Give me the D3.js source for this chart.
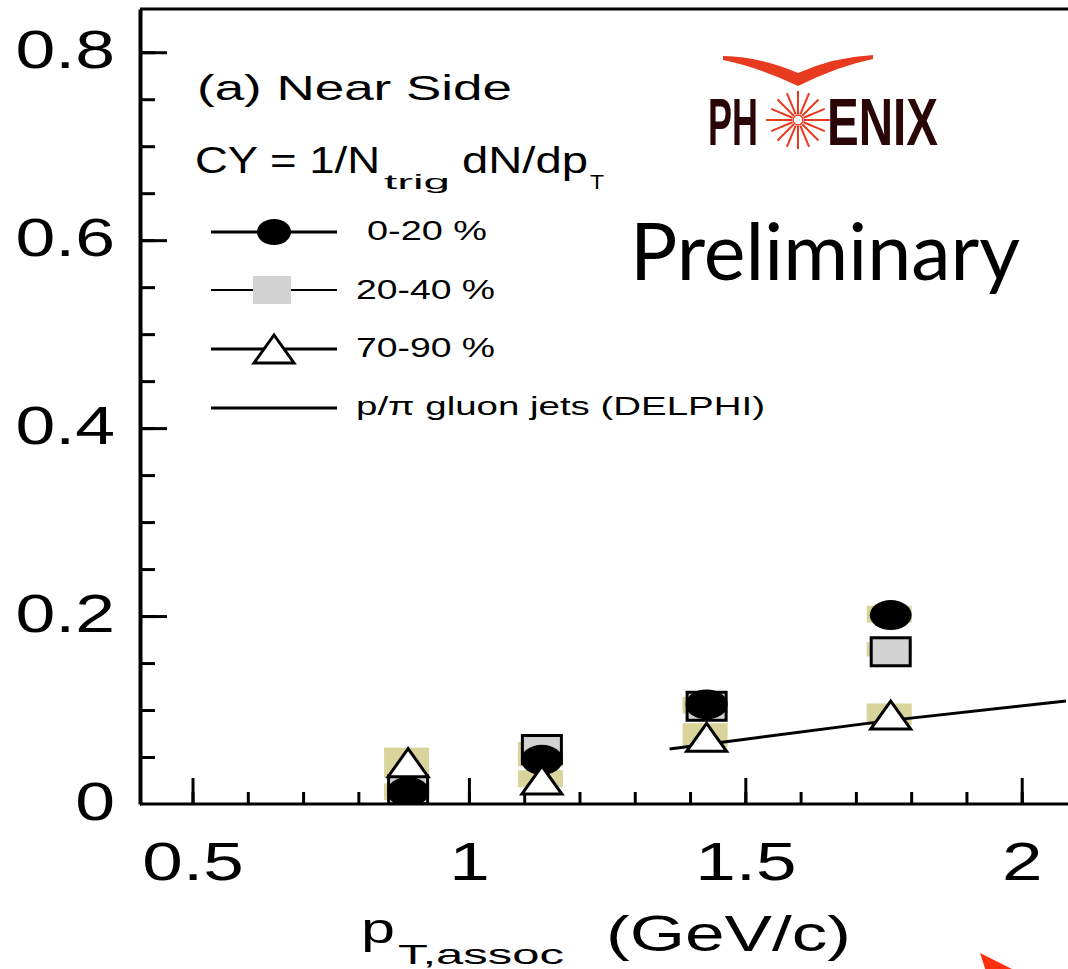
<!DOCTYPE html>
<html>
<head>
<meta charset="utf-8">
<script src="https://cdn.jsdelivr.net/npm/d3@7"></script>
<style>
  body { margin: 0; background: #fff; overflow: hidden; }
  svg { display: block; }
  text { font-family: "Liberation Sans", Arial, sans-serif; fill: #000; }
</style>
</head>
<body>
<div id="chart"></div>
<script>
// data
const ptX = [0.89, 1.132, 1.43, 1.763];
const cy0_20 = [0.013, 0.047, 0.106, 0.201];
const cy20_40 = [0.015, 0.058, 0.104, 0.162];
const cy70_90 = [0.044, 0.0255, 0.071, 0.0947];
// systematic error boxes [low, high]
const sys0_20 = [[0.004, 0.02], [0.04, 0.055], [0.099, 0.114], [0.193, 0.211]];
const sys20_40 = [[0.006, 0.022], [0.045, 0.066], [0.096, 0.112], [0.157, 0.172]];
const sys70_90 = [[0.028, 0.060], [0.018, 0.036], [0.060, 0.086], [0.084, 0.107]];
// p/pi gluon jets (DELPHI)
const delphiX = [1.363, 1.5, 1.763, 2.08];
const delphiY = [0.0585, 0.069, 0.089, 0.1096];

const xMajor = [0.5, 1, 1.5, 2];
const xMinor = d3.range(5, 21).map(d => d / 10);
const yMajor = [0, 0.2, 0.4, 0.6, 0.8];
const yMinor = d3.range(0, 17).map(d => d * 0.05);
const yLabels = ["0", "0.2", "0.4", "0.6", "0.8"];
const xLabels = ["0.5", "1", "1.5", "2"];

const W = 1068, H = 969;
const svg = d3.select("#chart").append("svg")
  .attr("width", W).attr("height", H);

const x = d3.scaleLinear().domain([0.405, 2.1]).range([140, 1077]);
const y = d3.scaleLinear().domain([0, 0.846]).range([804, 9]);

// stretch text horizontally like the original picture
function stretch(sel, k) {
  sel.each(function() {
    const w = this.getComputedTextLength();
    d3.select(this).attr("textLength", w * k).attr("lengthAdjust", "spacingAndGlyphs");
  });
}

// top frame line
svg.append("line")
  .attr("x1", x.range()[0]).attr("x2", W)
  .attr("y1", y(0.846)).attr("y2", y(0.846))
  .attr("stroke", "#000").attr("stroke-width", 3);

// minor ticks
svg.append("g")
  .attr("transform", `translate(0,${y(0)})`)
  .call(d3.axisBottom(x).tickValues(xMinor).tickSize(-12).tickFormat("").tickSizeOuter(0))
  .call(g => g.select(".domain").remove())
  .call(g => g.selectAll("line").attr("stroke-width", 3));
svg.append("g")
  .attr("transform", `translate(${x.range()[0]},0)`)
  .call(d3.axisLeft(y).tickValues(yMinor).tickSize(-15).tickFormat("").tickSizeOuter(0))
  .call(g => g.select(".domain").remove())
  .call(g => g.selectAll("line").attr("stroke-width", 3));

// major ticks and labels
const xAxis = svg.append("g")
  .attr("transform", `translate(0,${y(0)})`)
  .call(d3.axisBottom(x).tickValues(xMajor).tickSize(-26).tickSizeOuter(0)
    .tickFormat((d, i) => xLabels[i]));
xAxis.select(".domain").remove();
xAxis.selectAll("line").attr("stroke-width", 3);
xAxis.selectAll("text")
  .attr("y", 76).attr("dy", null)
  .style("font-size", "54px").attr("fill", "#000")
  .call(stretch, 1.35);

const yAxis = svg.append("g")
  .attr("transform", `translate(${x.range()[0]},0)`)
  .call(d3.axisLeft(y).tickValues(yMajor).tickSize(-27).tickSizeOuter(0)
    .tickFormat((d, i) => yLabels[i]));
yAxis.select(".domain").attr("stroke-width", 4);
yAxis.selectAll("line").attr("stroke-width", 3);
yAxis.selectAll("text")
  .attr("x", -25).attr("dy", null).attr("y", 15)
  .style("font-size", "53px").attr("fill", "#000")
  .call(stretch, 1.35);

// systematic boxes (behind markers)
const khaki = "#d8d49c";
[sys20_40, sys0_20, sys70_90].forEach(sys => {
  svg.append("g").selectAll("rect")
    .data(sys)
    .join("rect")
    .attr("x", (d, i) => x(ptX[i]) - 24)
    .attr("width", 45)
    .attr("y", d => y(d[1]))
    .attr("height", d => y(d[0]) - y(d[1]))
    .attr("fill", khaki);
});

// DELPHI line
svg.append("path")
  .datum(delphiX.map((d, i) => [d, delphiY[i]]))
  .attr("fill", "none").attr("stroke", "#000").attr("stroke-width", 3)
  .attr("d", d3.line().x(d => x(d[0])).y(d => y(d[1])));

// markers
function triPath(cx, cy, w, h) {
  return `M${cx},${cy - h / 2}L${cx - w / 2},${cy + h / 2}L${cx + w / 2},${cy + h / 2}Z`;
}

svg.append("g").selectAll("rect")
  .data(cy20_40)
  .join("rect")
  .attr("x", (d, i) => x(ptX[i]) - 19.5)
  .attr("y", d => y(d) - 14)
  .attr("width", 39).attr("height", 28)
  .attr("fill", "#d3d3d3").attr("stroke", "#000").attr("stroke-width", 3);

svg.append("g").selectAll("ellipse")
  .data(cy0_20)
  .join("ellipse")
  .attr("cx", (d, i) => x(ptX[i]))
  .attr("cy", d => y(d))
  .attr("rx", 21).attr("ry", 15)
  .attr("fill", "#000");

svg.append("g").selectAll("path")
  .data(cy70_90)
  .join("path")
  .attr("d", (d, i) => triPath(x(ptX[i]), y(d), 40, 28))
  .attr("fill", "#fff").attr("stroke", "#000").attr("stroke-width", 3)
  .attr("stroke-linejoin", "miter");

// hide marks below the x axis line, then draw the axis line itself
svg.append("rect").attr("x", 141).attr("y", 805).attr("width", W).attr("height", 30).attr("fill", "#fff");
svg.append("line")
  .attr("x1", 140).attr("x2", W).attr("y1", y(0)).attr("y2", y(0))
  .attr("stroke", "#000").attr("stroke-width", 3);

// texts in the frame
function txt(s, px, py, size, len, extra) {
  const t = svg.append("text")
    .attr("x", px).attr("y", py)
    .style("font-size", size + "px")
    .text(s);
  if (len) t.attr("textLength", len).attr("lengthAdjust", "spacingAndGlyphs");
  if (extra) extra(t);
  return t;
}

txt("(a) Near Side", 197, 100, 35, 315);
txt("CY = 1/N", 195, 173, 36, 185);
txt("trig", 384, 189, 21, 66);
txt("dN/dp", 462, 173, 36, 126);
txt("T", 590, 189, 21, 14);

// legend
const legend = [
  { label: "0-20 %", y: 232, tx: 367, len: 120, ty: 240, size: 28 },
  { label: "20-40 %", y: 290, tx: 356, len: 139, ty: 299, size: 28 },
  { label: "70-90 %", y: 349, tx: 356, len: 139, ty: 357, size: 28 },
  { label: "p/\u03c0 gluon jets (DELPHI)", y: 408, tx: 356, len: 409, ty: 415, size: 25 }
];
legend.forEach((l, i) => {
  svg.append("line")
    .attr("x1", 211).attr("x2", 337).attr("y1", l.y).attr("y2", l.y)
    .attr("stroke", "#000").attr("stroke-width", i === 1 ? 2 : 3);
  if (i === 0) {
    svg.append("ellipse").attr("cx", 274).attr("cy", l.y).attr("rx", 17).attr("ry", 13).attr("fill", "#000");
  } else if (i === 1) {
    svg.append("rect").attr("x", 253).attr("y", l.y - 14).attr("width", 38).attr("height", 28).attr("fill", "#d3d3d3");
  } else if (i === 2) {
    svg.append("path").attr("d", triPath(274, l.y, 40, 28))
      .attr("fill", "#fff").attr("stroke", "#000").attr("stroke-width", 3);
  }
  txt(l.label, l.tx, l.ty, l.size, l.len);
});

// Preliminary
txt("Preliminary", 630, 280, 80, 390, t => t.style("font-family", "Lato, 'Open Sans', sans-serif"));

// PHENIX logo
const red = "#e83a1e";
const logo = svg.append("g");
logo.append("path")
  .attr("d", "M723,56 Q762,57 798,73 Q834,57 873,55 L873,59 Q838,66 798,86 Q758,67 723,60 Z")
  .attr("fill", red);
const sc = [798, 120];
d3.range(0, 360, 22.5).forEach(a => {
  const r = a * Math.PI / 180;
  const r0 = 6, r1 = (a === 0 || a === 180) ? 32 : 29;
  logo.append("line")
    .attr("x1", sc[0] + r0 * Math.cos(r)).attr("y1", sc[1] + r0 * Math.sin(r))
    .attr("x2", sc[0] + r1 * Math.cos(r)).attr("y2", sc[1] + r1 * Math.sin(r))
    .attr("stroke", red).attr("stroke-width", 2);
});
logo.append("circle").attr("cx", sc[0]).attr("cy", sc[1]).attr("r", 5)
  .attr("fill", "#fff").attr("stroke", red).attr("stroke-width", 1.5);
txt("PH", 708, 145, 66, 50, t => t.style("font-weight", "bold").style("fill", "#2a0606"));
txt("ENIX", 827, 145, 66, 111, t => t.style("font-weight", "bold").style("fill", "#2a0606"));

// x axis title
txt("p", 361, 943, 42, 34);
txt("T,assoc", 398, 964, 28, 166);
txt("(GeV/c)", 606, 951, 50, 245);

// red arrow at the bottom right corner
svg.append("path")
  .attr("d", "M980,953 L1030,978 L992,990 Z")
  .attr("fill", "#ff3010");
</script>
</body>
</html>
